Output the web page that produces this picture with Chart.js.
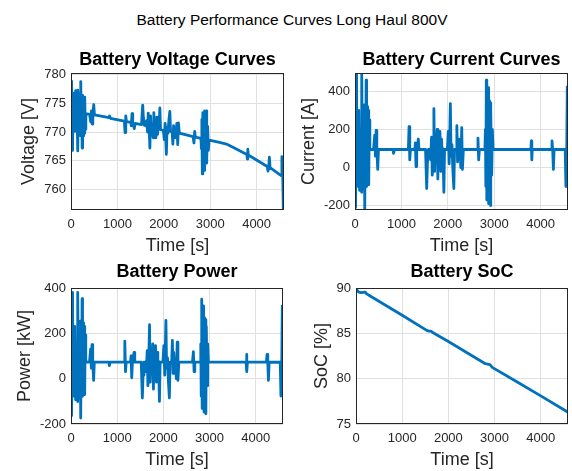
<!DOCTYPE html>
<html>
<head>
<meta charset="utf-8">
<script src="https://cdn.jsdelivr.net/npm/chart.js@4/dist/chart.umd.min.js"></script>
<style>
  html, body { margin: 0; padding: 0; background: #fff; }
  #wrap { position: relative; width: 572px; height: 471px; overflow: hidden; background: #fff; }
  #suptitle {
    position: absolute; left: 6px; top: 8px; width: 572px; text-align: center;
    font: 15.5px "Liberation Sans", Arial, Helvetica, sans-serif; color: #000; line-height: 24px;
  }
  canvas { position: absolute; }
</style>
</head>
<body>
<div id="wrap">
  <div id="suptitle">Battery Performance Curves Long Haul 800V</div>
  <canvas id="cVolt" width="290" height="224" style="left:0;top:36px"></canvas>
  <canvas id="cCurr" width="282" height="224" style="left:290px;top:36px"></canvas>
  <canvas id="cPow" width="290" height="211" style="left:0;top:260px"></canvas>
  <canvas id="cSoc" width="282" height="211" style="left:290px;top:260px"></canvas>
</div>
<script>
// Drive-cycle samples: time [s] and the matching battery readings.
const timeS = [
  0, 8, 16, 24, 34, 44, 52, 60, 70, 80, 90, 100, 110, 120, 130, 140, 150, 160, 170, 180,
  190, 200, 210, 220, 230, 240, 250, 262, 272, 284, 296, 308, 320,
  400, 425, 440, 455, 470, 490, 505,
  820, 830, 850,
  1150, 1165, 1180, 1195,
  1290, 1300, 1315, 1330, 1365, 1380,
  1520, 1545, 1560, 1580,
  1610, 1630, 1650, 1665, 1685, 1700, 1715, 1735, 1750, 1770,
  1785, 1800, 1815, 1830, 1850, 1865, 1880, 1895, 1915, 1930,
  1990, 2010, 2030, 2055, 2070, 2090, 2110, 2130, 2145,
  2180, 2195, 2210, 2225, 2240, 2260, 2280, 2300, 2315, 2335,
  2630, 2650, 2665, 2680,
  2800, 2810, 2820, 2830, 2840, 2850, 2860, 2870, 2880, 2890,
  2900, 2910, 2920, 2930, 2945, 2960, 2975,
  3200, 3350, 3500,
  3790, 3800, 3810, 3820,
  4230, 4245, 4260, 4275, 4290,
  4530, 4545, 4560, 4575, 4585
];

const currentA = [
  95, 370, -210, 120, 497, -60, 220, 80, -100, 300, 60, -120, 200, -40, 90, -130, 497, -20, 250, 60,
  -110, 330, -223, 150, -60, 460, -100, 320, -40, 300, -90, 250, 95,
  95, 170, 60, 195, 95, -10, 95,
  95, 75, 95,
  95, 215, 40, 95,
  95, 130, 5, 95, 150, 95,
  95, -110, 20, 95,
  95, 40, 160, -40, 120, 310, -20, 170, 60, 200,
  -60, 180, 30, 190, -20, 150, 60, 100, -130, 95,
  95, 190, 20, 336, 60, 120, -20, -110, 95,
  95, 220, 30, 150, 60, 100, 0, 210, -10, 95,
  95, 155, 40, 95,
  95, 200, -100, 460, -170, 380, -140, 420, -190, 350,
  -100, 340, -200, 300, -40, 200, 95,
  95, 95, 95,
  95, 140, 40, 95,
  95, 140, 95, -10, 95,
  95, -100, 0, 430, 430
];

const voltageV = [
  774.0, 769.3, 778.9, 773.5, 766.8, 776.3, 771.5, 773.8, 776.8, 770.1, 774.1, 777.2, 771.7, 775.8, 773.5, 777.3, 766.7, 775.3, 770.8, 773.9,
  776.8, 769.4, 778.8, 772.4, 775.9, 767.2, 776.4, 769.3, 775.4, 769.8, 776.1, 770.5, 773.2,
  773.1, 771.8, 773.7, 771.4, 773.1, 774.8, 773.0,
  772.5, 772.8, 772.4,
  771.9, 769.9, 772.8, 771.8,
  771.7, 771.1, 773.2, 771.6, 770.6, 771.5,
  771.3, 774.7, 772.5, 771.2,
  771.1, 772.0, 770.0, 773.3, 770.6, 767.2, 772.8, 769.5, 771.4, 769.0,
  773.4, 769.3, 771.8, 769.0, 772.6, 769.6, 771.2, 770.5, 774.2, 770.4,
  770.3, 768.7, 771.5, 766.1, 770.8, 769.8, 772.1, 773.6, 770.1,
  770.0, 767.9, 771.1, 769.0, 770.5, 769.8, 771.5, 767.8, 771.6, 769.8,
  769.2, 768.1, 770.1, 769.1,
  768.9, 767.1, 772.2, 762.7, 773.4, 764.0, 772.8, 763.3, 773.7, 764.5,
  772.1, 764.6, 773.7, 765.2, 771.0, 766.8, 768.6,
  768.2, 767.9, 767.3,
  766.1, 765.3, 767.0, 766.0,
  764.0, 763.2, 763.9, 765.6, 763.8,
  762.4, 765.7, 763.9, 756.5, 756.5
];

const powerKW = [
  73.5, 284.6, -163.6, 92.8, 381.1, -46.6, 169.7, 61.9, -77.7, 231.0, 46.4, -93.3, 154.3, -31.0, 69.6, -101.0, 381.0, -15.5, 192.7, 46.4,
  -85.4, 253.9, -173.7, 115.9, -46.6, 352.9, -77.6, 246.2, -31.0, 230.9, -69.8, 192.6, 73.5,
  73.4, 131.2, 46.4, 150.4, 73.4, -7.7, 73.4,
  73.4, 58.0, 73.4,
  73.3, 165.5, 30.9, 73.3,
  73.3, 100.2, 3.9, 73.3, 115.6, 73.3,
  73.3, -85.2, 15.5, 73.3,
  73.3, 30.9, 123.2, -30.9, 92.5, 237.8, -15.5, 130.8, 46.3, 153.8,
  -46.4, 138.5, 23.2, 146.1, -15.5, 115.4, 46.3, 77.1, -100.6, 73.2,
  73.2, 146.1, 15.4, 257.4, 46.2, 92.4, -15.4, -85.1, 73.2,
  73.2, 168.9, 23.1, 115.4, 46.2, 77.0, 0.0, 161.2, -7.7, 73.1,
  73.1, 119.1, 30.8, 73.1,
  73.0, 153.4, -77.2, 350.8, -131.5, 290.3, -108.2, 320.6, -147.0, 267.6,
  -77.2, 260.0, -154.7, 229.6, -30.8, 153.4, 73.0,
  73.0, 72.9, 72.9,
  72.8, 107.1, 30.7, 72.8,
  72.6, 106.8, 72.6, -7.7, 72.6,
  72.4, -76.6, 0.0, 325.3, 325.3
];

// State of charge is logged on its own, coarser time base.
const socTimeS = [0, 30, 60, 100, 200, 230, 280, 1000, 1540, 1580, 1620, 1660, 2000, 2800, 2850, 2900, 2950, 3500, 4000, 4590];
const socPct   = [90.0, 89.7, 89.55, 89.5, 89.55, 89.35, 89.2, 87.0, 85.3, 85.25, 85.25, 85.1, 84.1, 81.65, 81.6, 81.55, 81.25, 79.6, 78.1, 76.3];

// Axis ticks
const timeTicks = [0, 1000, 2000, 3000, 4000];
const voltTicks = [760, 765, 770, 775, 780];
const currTicks = [-200, 0, 200, 400];
const powTicks  = [-200, 0, 200, 400];
const socTicks  = [75, 80, 85, 90];

const FONT = '"Liberation Sans", Arial, Helvetica, sans-serif';
const INK = '#262626';
const LINE = '#0072BD';

// Box around each axes (top/right edges included)
const axesBox = {
  id: 'axesBox',
  afterDatasetsDraw(chart) {
    const a = chart.chartArea, ctx = chart.ctx;
    ctx.save();
    ctx.strokeStyle = INK;
    ctx.lineWidth = 1;
    ctx.strokeRect(Math.round(a.left) + 0.5, Math.round(a.top) + 0.5,
                   Math.round(a.right - a.left) - 1, Math.round(a.bottom - a.top) - 1);
    ctx.restore();
  }
};

function pairs(xs, ys) { return xs.map((x, i) => ({ x: x, y: ys[i] })); }

function makePanel(id, o) {
  return new Chart(document.getElementById(id), {
    type: 'line',
    data: {
      datasets: [{
        data: pairs(o.x, o.y),
        borderColor: LINE,
        borderWidth: 2.8,
        pointRadius: 0,
        tension: 0,
        borderJoinStyle: 'round',
        fill: false
      }]
    },
    options: {
      responsive: false,
      animation: false,
      devicePixelRatio: 1,
      layout: { padding: { left: 0, right: o.padRight, top: 0, bottom: 0 } },
      plugins: {
        legend: { display: false },
        tooltip: { enabled: false },
        title: {
          display: true,
          text: o.title,
          fullSize: false,
          color: '#000',
          font: { family: FONT, size: 18, weight: 'bold', lineHeight: 1.2 },
          padding: { top: o.titleTop, bottom: o.titleBottom }
        }
      },
      scales: {
        x: {
          type: 'linear',
          min: 0,
          max: 4590,
          afterBuildTicks: s => { s.ticks = timeTicks.map(v => ({ value: v })); },
          afterFit: s => { s.height = o.xHeight; },
          grid: { color: '#e0e0e0', lineWidth: 1, drawTicks: false },
          border: { display: false },
          ticks: {
            color: INK, padding: 7, maxRotation: 0, autoSkip: false,
            font: { family: FONT, size: 13 },
            callback: v => String(v)
          },
          title: {
            display: true, text: 'Time [s]', color: INK,
            font: { family: FONT, size: 18, lineHeight: 1.2 },
            padding: { top: 0, bottom: o.xTitlePad }
          }
        },
        y: {
          type: 'linear',
          min: o.yMin,
          max: o.yMax,
          afterBuildTicks: s => { s.ticks = o.yTicks.map(v => ({ value: v })); },
          afterFit: s => { s.width = o.yWidth; },
          grid: { color: '#e0e0e0', lineWidth: 1, drawTicks: false },
          border: { display: false },
          ticks: {
            color: INK, padding: 5, autoSkip: false,
            font: { family: FONT, size: 13 },
            callback: v => String(v)
          },
          title: {
            display: true, text: o.yLabel, color: INK,
            font: { family: FONT, size: 18, lineHeight: 1.2 },
            padding: { top: o.yTitlePad, bottom: 0 }
          }
        }
      }
    },
    plugins: [axesBox]
  });
}

makePanel('cVolt', {
  title: 'Battery Voltage Curves', yLabel: 'Voltage [V]',
  x: timeS, y: voltageV, yMin: 756.4, yMax: 780.3, yTicks: voltTicks,
  yWidth: 71, yTitlePad: 18.2, padRight: 6, xHeight: 50, xTitlePad: 3.2,
  titleTop: 13, titleBottom: 2.4
});
makePanel('cCurr', {
  title: 'Battery Current Curves', yLabel: 'Current [A]',
  x: timeS, y: currentA, yMin: -223, yMax: 497, yTicks: currTicks,
  yWidth: 65, yTitlePad: 8.7, padRight: 4, xHeight: 50, xTitlePad: 3.2,
  titleTop: 13, titleBottom: 2.4
});
makePanel('cPow', {
  title: 'Battery Power', yLabel: 'Power [kW]',
  x: timeS, y: powerKW, yMin: -200, yMax: 400, yTicks: powTicks,
  yWidth: 71, yTitlePad: 14.7, padRight: 7, xHeight: 47, xTitlePad: 0.2,
  titleTop: 1.2, titleBottom: 5.2
});
makePanel('cSoc', {
  title: 'Battery SoC', yLabel: 'SoC [%]',
  x: socTimeS, y: socPct, yMin: 75, yMax: 90, yTicks: socTicks,
  yWidth: 66, yTitlePad: 21.2, padRight: 4, xHeight: 47, xTitlePad: 0.2,
  titleTop: 1.2, titleBottom: 5.2
});
</script>
</body>
</html>
